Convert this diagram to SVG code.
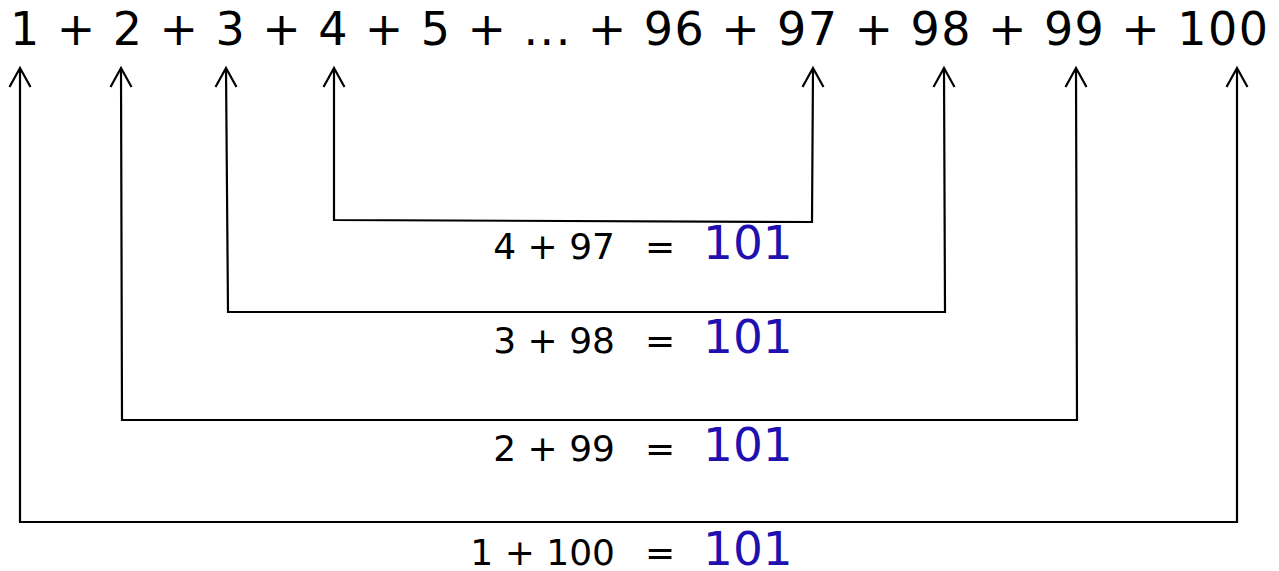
<svg xmlns="http://www.w3.org/2000/svg" width="1279" height="571" viewBox="0 0 1279 571">
<style>
.t{font-family:"DejaVu Sans","Verdana",sans-serif;fill:#000}
.top{font-size:46px}
.lab{font-size:36px}
.res{font-size:47px;fill:#2010b0}
.c{fill:none;stroke:#000;stroke-width:2.2}
</style>
<rect width="1279" height="571" fill="#fff"/>
<g id="sum">
<text class="t top" x="10" y="45" textLength="1258" lengthAdjust="spacing">1 + 2 + 3 + 4 + 5 + ... + 96 + 97 + 98 + 99 + 100</text>
</g>
<g id="connectors">
<path class="c" d="M334 69 L334 220 L812 222 L813 69"/>
<path class="c" d="M226 69 L228 312 L945 312 L944 69"/>
<path class="c" d="M121 69 L122 420 L1077 420 L1076 69"/>
<path class="c" d="M20 69 L20 522 L1237 522 L1237 69"/>
<path class="c" d="M323.5 87 L334 68 L344.5 87"/>
<path class="c" d="M802.5 87 L813 68 L823.5 87"/>
<path class="c" d="M215.5 87 L226 68 L236.5 87"/>
<path class="c" d="M933.5 87 L944 68 L954.5 87"/>
<path class="c" d="M110.5 87 L121 68 L131.5 87"/>
<path class="c" d="M1065.5 87 L1076 68 L1086.5 87"/>
<path class="c" d="M9.5 87 L20 68 L30.5 87"/>
<path class="c" d="M1226.5 87 L1237 68 L1247.5 87"/>
</g>
<g id="pair4">
<text class="t lab" x="615" y="259" text-anchor="end">4 + 97</text>
<text class="t lab" x="645" y="259">=</text>
<text class="t res" x="703" y="259">101</text>
</g>
<g id="pair3">
<text class="t lab" x="615" y="353" text-anchor="end">3 + 98</text>
<text class="t lab" x="645" y="353">=</text>
<text class="t res" x="703" y="353">101</text>
</g>
<g id="pair2">
<text class="t lab" x="615" y="461" text-anchor="end">2 + 99</text>
<text class="t lab" x="645" y="461">=</text>
<text class="t res" x="703" y="461">101</text>
</g>
<g id="pair1">
<text class="t lab" x="615" y="565" text-anchor="end">1 + 100</text>
<text class="t lab" x="645" y="565">=</text>
<text class="t res" x="703" y="565">101</text>
</g>
</svg>
